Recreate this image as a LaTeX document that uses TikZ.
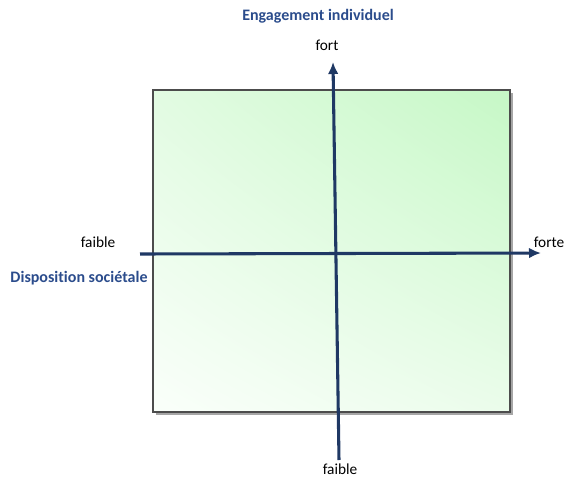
\documentclass[tikz,border=0pt]{standalone}
\usepackage{fontspec}
\setmainfont{Carlito}[Ligatures=NoCommon]
\usepackage{xcolor}
\usetikzlibrary{arrows.meta,shadings}
\definecolor{axisblue}{HTML}{1F3864}
\definecolor{titleblue}{HTML}{2B4C8C}
\definecolor{boxgreen}{HTML}{C6F8C6}
\definecolor{boxpale}{HTML}{E2FBE2}
\definecolor{boxwhite}{HTML}{FAFFFA}

\begin{document}
\begin{tikzpicture}[x=0.75pt,y=-0.75pt,
    axe/.style={axisblue, line width=2.3pt, -{Latex[length=9pt,width=8pt]}},
    lbl/.style={font=\fontsize{11.5}{13}\selectfont, inner sep=1pt},
    titre/.style={titleblue, font=\fontsize{12}{14}\selectfont\bfseries, inner sep=1pt}]
                \useasboundingbox (0,0) rectangle (568,479);
                % cadre
                \fill[black!35] (156,93) rectangle (513,415);
                \shade[upper right=boxgreen, upper left=boxpale, lower right=boxpale!70!white, lower left=boxwhite] (153,90) rectangle (510,412);
                \draw[black!70, line width=1.1pt] (153,90) rectangle (510,412);
                % axes
                \coordinate (bas) at (339,460);
                \coordinate (haut) at (333,62);
                \coordinate (gauche) at (140,254);
                \coordinate (droite) at (541,253);
                \draw[axe] (bas) -- (haut);
                \draw[axe] (gauche) -- (droite);
                % textes
                \node[titre] (engagement) at (318,16) {Engagement individuel};
                \node[lbl] (fort) at (327,45) {fort};
                \node[lbl] (faibleG) at (98,242) {faible};
                \node[titre] (disposition) at (79,278) {Disposition sociétale};
                \node[lbl] (forte) at (549,242) {forte};
                \node[lbl] (faibleB) at (340,469) {faible};
            \end{tikzpicture}
\end{document}
